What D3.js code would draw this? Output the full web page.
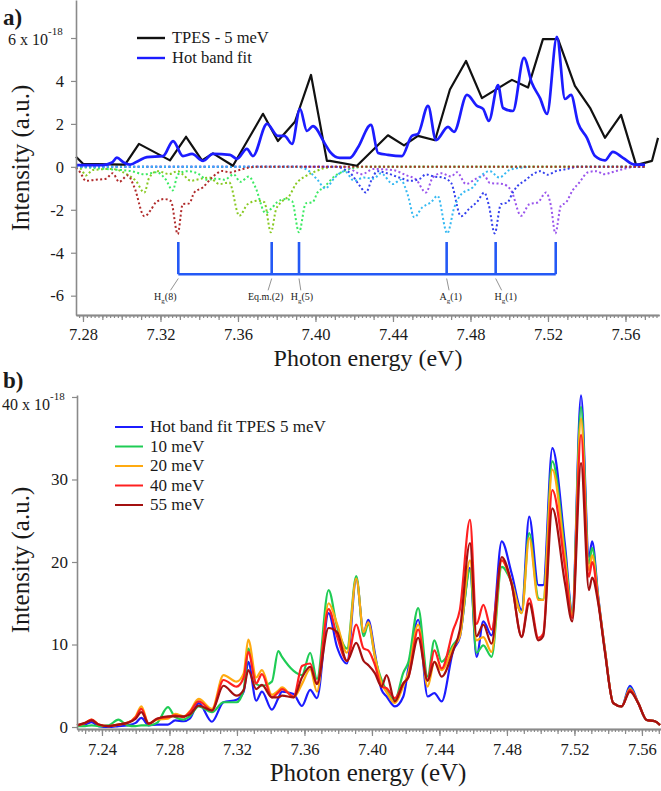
<!DOCTYPE html>
<html>
<head>
<meta charset="utf-8">
<script src="https://cdn.jsdelivr.net/npm/d3@7"></script>
<style>
  body { margin: 0; background: #fff; }
</style>
</head>
<body>
<div id="plot"></div>
<script>
// ---------- panel a data : [photon energy (eV), intensity (1e-18)] ----------
var tpes5 = [[7.2764,0.47],[7.2800,0.14],[7.3017,0.1],[7.3089,1.07],[7.3249,0.3],[7.3332,1.4],[7.3414,0.3],
  [7.3471,0.63],[7.3574,0.05],[7.3729,2.47],[7.3806,1.2],[7.3894,2.1],[7.3977,4.28],[7.4059,0.28],[7.4075,0.28],
  [7.4214,0.05],[7.4374,1.47],[7.4457,1.0],[7.4529,1.44],[7.4617,1.24],[7.4694,3.6],[7.4777,4.93],[7.4859,3.2],
  [7.5014,4.05],[7.5097,3.69],[7.5174,5.95],[7.5252,5.95],[7.5339,3.77],[7.5417,2.75],[7.5494,1.35],[7.5577,2.42],
  [7.5655,0.08],[7.5737,0.28],[7.5768,1.35]];

var hotFitA = [[7.2764,0.08],[7.2900,0.08],[7.2950,0.2],[7.2975,0.43],[7.3010,0.2],[7.3043,0.1],[7.3090,0.3],
  [7.3130,0.45],[7.3213,0.5],[7.3265,1.2],[7.3316,0.5],[7.3363,0.6],[7.3420,0.28],[7.3470,0.6],[7.3559,0.56],
  [7.3595,0.37],[7.3646,0.84],[7.3677,0.5],[7.3750,2.0],[7.3806,1.44],[7.3840,1.44],[7.3879,1.07],[7.3920,2.7],
  [7.3956,1.67],[7.3987,1.9],[7.4049,1.07],[7.4075,0.7],[7.4126,0.42],[7.4178,0.42],[7.4219,0.9],[7.4286,1.95],
  [7.4323,0.65],[7.4374,0.56],[7.4446,0.5],[7.4498,1.44],[7.4529,1.53],[7.4581,2.84],[7.4622,1.24],[7.4684,1.86],
  [7.4715,1.63],[7.4782,3.35],[7.4834,2.84],[7.4865,2.7],[7.4895,2.14],[7.4942,3.81],[7.4968,2.74],[7.5019,2.6],
  [7.5076,5.07],[7.5117,3.9],[7.5159,3.2],[7.5195,2.46],[7.5246,6.05],[7.5288,3.16],[7.5319,3.35],[7.5355,2.05],
  [7.5401,1.35],[7.5443,0.5],[7.5494,0.3],[7.5535,0.7],[7.5587,0.42],[7.5649,0.1],[7.5701,0.1]];

// hot band components (drawn negative, dotted)
var compYellowGreen = [[7.2764,0],[7.2790,-0.1],[7.2815,-0.4],[7.2850,-0.15],[7.2950,-0.1],[7.3031,-0.37],[7.3073,-0.65],
  [7.3117,-1.2],[7.3142,-0.5],[7.3186,-0.2],[7.3245,-0.34],[7.3289,-0.2],[7.3315,-0.35],[7.3357,-0.65],[7.3400,-0.57],
  [7.3452,-0.5],[7.3504,-0.8],[7.3555,-0.73],[7.3607,-2.28],[7.3650,-1.74],[7.3702,-1.58],[7.3736,-1.65],[7.3770,-3.05],
  [7.3796,-2.0],[7.3831,-1.58],[7.3865,-1.35],[7.3899,-0.8],[7.3951,-0.42],[7.4003,-0.2],[7.4050,-0.05],[7.4100,0],[7.5700,0]];
var compLime = [[7.2764,0],[7.2950,-0.12],[7.3050,-0.2],[7.3117,-0.35],[7.3180,-0.25],[7.3228,-0.6],[7.3263,-1.1],
  [7.3290,-0.35],[7.3340,-0.2],[7.3400,-0.35],[7.3440,-0.6],[7.3490,-0.55],[7.3530,-0.6],[7.3578,-0.35],[7.3612,-0.7],
  [7.3656,-0.45],[7.3690,-0.95],[7.3742,-2.15],[7.3776,-1.9],[7.3802,-1.65],[7.3845,-1.5],[7.3879,-1.6],[7.3915,-3.05],
  [7.3950,-1.7],[7.3985,-1.65],[7.4010,-1.2],[7.4043,-0.96],[7.4094,-0.47],[7.4146,-0.2],[7.4200,-0.05],[7.4250,0],[7.5700,0]];
var compPurple = [[7.2764,0],[7.4150,0],[7.4240,-0.34],[7.4300,-0.1],[7.4400,-0.15],[7.4470,-0.4],[7.4520,-0.6],
  [7.4570,-1.2],[7.4605,-0.5],[7.4650,-0.3],[7.4700,-0.45],[7.4730,-0.25],[7.4777,-0.8],[7.4820,-0.6],[7.4870,-0.4],
  [7.4900,-0.75],[7.4966,-0.8],[7.5010,-1.1],[7.5061,-2.28],[7.5104,-1.74],[7.5147,-1.66],[7.5190,-1.2],[7.5215,-1.8],
  [7.5238,-3.1],[7.5267,-1.8],[7.5293,-1.66],[7.5327,-1.1],[7.5362,-0.73],[7.5405,-0.26],[7.5448,-0.2],[7.5491,-0.34],
  [7.5530,-0.25],[7.5580,-0.12],[7.5650,0],[7.5700,0]];
var compBlue = [[7.2764,0],[7.4100,0],[7.4180,-0.3],[7.4230,-0.9],[7.4260,-1.2],[7.4290,-0.6],[7.4320,-0.2],
  [7.4370,-0.3],[7.4433,-0.5],[7.4490,-0.65],[7.4540,-0.55],[7.4570,-0.35],[7.4610,-0.45],[7.4657,-0.5],[7.4700,-0.75],
  [7.4751,-2.3],[7.4794,-1.95],[7.4837,-1.6],[7.4871,-1.2],[7.4895,-1.8],[7.4925,-3.1],[7.4957,-1.74],[7.4991,-1.66],
  [7.5018,-1.2],[7.5044,-0.88],[7.5080,-0.65],[7.5121,-0.35],[7.5160,-0.2],[7.5198,-0.37],[7.5240,-0.2],[7.5300,-0.1],
  [7.5350,0],[7.5700,0]];
var compLightBlue = [[7.2764,0],[7.3900,0],[7.3950,-0.1],[7.4010,-0.6],[7.4050,-1.0],[7.4100,-0.5],[7.4150,-0.2],
  [7.4200,-0.65],[7.4250,-0.5],[7.4300,-0.55],[7.4338,-0.3],[7.4400,-0.8],[7.4440,-0.6],[7.4476,-1.3],[7.4510,-2.35],
  [7.4550,-1.9],[7.4596,-1.65],[7.4630,-1.35],[7.4680,-3.1],[7.4716,-1.9],[7.4750,-1.3],[7.4811,-0.96],[7.4863,-0.35],
  [7.4900,-0.2],[7.4949,-0.5],[7.5000,-0.15],[7.5050,-0.05],[7.5100,0]];
var compDarkRed = [[7.2764,-0.05],[7.2785,-0.25],[7.2815,-0.65],[7.2867,-0.6],[7.2919,-0.55],[7.2953,-0.3],[7.2987,-0.7],
  [7.3031,-0.4],[7.3065,-0.95],[7.3117,-2.3],[7.3151,-2.0],[7.3177,-1.65],[7.3220,-1.5],[7.3254,-1.6],[7.3289,-3.13],
  [7.3315,-1.74],[7.3349,-1.7],[7.3374,-1.2],[7.3418,-0.96],[7.3469,-0.47],[7.3521,-0.19],[7.3555,-0.26],[7.3607,-0.15],
  [7.3658,-0.03],[7.3700,0],[7.5700,0]];

var stickEnergy = [7.3292, 7.3774, 7.3915, 7.4677, 7.4930, 7.5240];
var stickMain = ["H", "Eq.m.(2)", "H", "A", "H", ""];
var stickSub = ["g", "", "g", "g", "g", ""];
var stickTail = ["(8)", "", "(5)", "(1)", "(1)", ""];

// ---------- panel b data : common energy grid, one value list per resolution ----------
var energyB = [7.2252,7.2300,7.2339,7.2380,7.2440,7.2497,7.2550,7.2600,7.2633,7.2677,7.2726,7.2791,7.2834,7.2884,
  7.2920,7.2973,7.3052,7.3120,7.3198,7.3240,7.3267,7.3314,7.3348,7.3407,7.3445,7.3467,7.3536,7.3585,7.3634,7.3674,
  7.3743,7.3793,7.3852,7.3907,7.3951,7.3978,7.4018,7.4057,7.4087,7.4136,7.4186,7.4215,7.4274,7.4330,7.4370,7.4413,
  7.4482,7.4521,7.4581,7.4620,7.4660,7.4709,7.4769,7.4828,7.4887,7.4932,7.4986,7.5015,7.5069,7.5144,7.5187,7.5239,
  7.5286,7.5305,7.5341,7.5381,7.5430,7.5480,7.5529,7.5578,7.5628,7.5677,7.5707];
var fit5 =  [0.2,0.3,0.6,0.1,0.0,0.1,0.2,0.5,1.1,0.2,0.3,0.3,0.8,0.7,1.0,2.9,0.64,3.0,3.3,4.3,7.9,3.2,4.3,2.1,3.5,4.3,4.0,2.55,4.5,3.5,
  13.8,9.7,7.7,18.0,11.4,13.0,8.9,4.5,3.7,2.5,3.7,7.0,13.0,3.7,4.1,3.1,9.3,10.9,19.3,8.5,12.8,11.1,22.5,18.6,14.2,25.5,17.2,17.2,
  33.8,22.1,14.0,40.2,20.6,22.5,15.8,9.3,2.9,2.5,5.0,2.9,0.85,0.7,0.24];
var res10 = [0.1,0.1,0.2,0.1,0.2,0.9,0.2,0.1,0.2,0.2,0.5,2.4,1.2,0.9,1.3,2.5,1.8,3.0,3.0,4.5,9.5,5.2,5.0,5.5,9.2,8.5,6.8,6.3,9.0,5.8,
  16.6,12.2,9.5,18.3,11.0,12.5,8.5,5.7,4.4,3.3,6.6,7.8,14.4,6.1,10.5,7.9,10.0,11.2,19.0,9.0,9.9,8.5,19.4,17.5,13.8,23.5,15.6,15.4,
  32.2,21.1,13.8,38.8,19.8,21.7,15.6,9.3,2.9,2.5,4.7,2.9,0.85,0.7,0.24];
var res20 = [0.2,0.5,0.9,0.3,0.1,0.3,0.5,1.3,2.5,0.4,0.9,1.0,1.6,1.3,1.9,3.4,2.2,6.3,5.5,6.5,10.6,6.0,6.9,3.9,4.4,4.8,3.6,5.2,7.0,4.3,
  15.0,12.5,9.0,18.0,11.5,12.7,8.5,5.3,4.2,2.9,5.0,6.5,12.4,4.9,7.9,6.9,9.7,11.0,20.2,10.5,10.9,9.1,20.2,17.5,13.8,22.9,15.4,15.4,
  31.2,20.5,13.5,37.4,19.0,20.8,15.5,9.3,2.9,2.5,4.6,2.9,0.85,0.7,0.24];
var res40 = [0.2,0.5,0.9,0.3,0.1,0.3,0.5,1.2,2.2,0.4,1.0,1.2,1.4,1.2,1.8,3.1,2.0,5.7,4.9,6.0,9.1,5.3,6.4,3.6,4.2,4.6,3.7,7.4,7.7,5.3,
  14.3,11.0,8.0,12.4,9.5,9.3,7.5,4.9,4.7,3.5,5.3,6.0,11.8,5.7,9.3,7.1,11.8,14.2,25.1,12.5,14.8,11.8,20.2,17.3,11.0,15.6,10.8,11.3,
  28.7,19.4,13.2,35.4,18.2,20.0,15.3,9.2,2.9,2.5,4.5,2.9,0.85,0.7,0.24];
var res55 = [0.2,0.5,0.8,0.3,0.1,0.3,0.5,1.0,1.8,0.4,1.0,1.3,1.3,1.3,1.5,2.6,2.0,5.0,3.8,4.5,6.9,4.6,5.1,3.6,3.6,3.8,3.6,6.0,7.3,5.2,
  12.0,11.5,8.0,10.2,8.0,7.5,6.5,4.9,6.3,3.1,5.3,6.0,10.8,5.6,7.9,6.1,9.3,11.8,22.3,11.0,12.4,10.1,20.6,17.3,10.9,15.0,10.5,11.0,
  26.5,17.4,12.8,32.0,16.6,18.1,15.0,9.0,2.9,2.5,4.3,2.9,0.85,0.7,0.24];

var seriesB = [
  { name: "Hot band fit TPES 5 meV", values: fit5, color: "#1c1cff" },
  { name: "10 meV", values: res10, color: "#1fcc55" },
  { name: "20 meV", values: res20, color: "#ffaa10" },
  { name: "40 meV", values: res40, color: "#ff2020" },
  { name: "55 meV", values: res55, color: "#a31010" }
];

var FONT = "'Liberation Serif', Tinos, 'Times New Roman', 'DejaVu Serif', serif";
var W = 661, H = 791;
var svg = d3.select("#plot").append("svg").attr("width", W).attr("height", H);

var axisGrey = "#8a8a8a";

function styleAxis(g) {
  g.attr("font-family", null);
  g.select(".domain").attr("stroke", axisGrey).attr("stroke-width", 1.6);
  g.selectAll(".tick line").attr("stroke", axisGrey).attr("stroke-width", 1.2);
  g.selectAll(".tick text").attr("fill", "#1a1a1a").style("font-size", "16.5px");
}

function drawXAxis(g, x, y0, start, end, padding) {
  var majors = d3.range(0, 10).map(function (i) { return +(start + i * 0.04).toFixed(2); }).filter(function (v) { return v <= end + 1e-9; });
  var minors = d3.range(Math.ceil(x.domain()[0] / 0.002), Math.floor(x.domain()[1] / 0.002) + 1).map(function (k) { return k * 0.002; });
  var mids = minors.filter(function (v) { return Math.abs(Math.round(v * 100) - v * 100) < 1e-6; });
  g.append("g").attr("transform", "translate(0," + y0 + ")")
    .call(d3.axisBottom(x).tickValues(minors).tickSize(3).tickFormat("").tickSizeOuter(0)).call(styleAxis)
    .selectAll(".tick text").remove();
  g.append("g").attr("transform", "translate(0," + y0 + ")")
    .call(d3.axisBottom(x).tickValues(mids).tickSize(5).tickFormat("").tickSizeOuter(0)).call(styleAxis)
    .selectAll(".tick text").remove();
  g.append("g").attr("transform", "translate(0," + y0 + ")")
    .call(d3.axisBottom(x).tickValues(majors).tickSize(7).tickPadding(padding).tickFormat(d3.format(".2f")).tickSizeOuter(0))
    .call(styleAxis);
}

// ================= panel a =================
var xA = d3.scaleLinear().domain([7.2764, 7.5773]).range([76, 659]);
var yA = d3.scaleLinear().domain([-6.9, 7.77]).range([315, 0]);
var gA = svg.append("g");

var dotted = [
  { data: compYellowGreen, color: "#88c922" },
  { data: compLime, color: "#3bea62" },
  { data: compPurple, color: "#9a55ec" },
  { data: compBlue, color: "#3440ee" },
  { data: compLightBlue, color: "#36b9f2" },
  { data: compDarkRed, color: "#b02a2a" }
];
var lineA = d3.line().x(function (d) { return xA(d[0]); }).y(function (d) { return yA(d[1]); }).curve(d3.curveMonotoneX);
dotted.forEach(function (c) {
  gA.append("path").datum(c.data).attr("d", lineA).attr("fill", "none")
    .attr("stroke", c.color).attr("stroke-width", 2).attr("stroke-dasharray", "2,2.4");
});

gA.append("path").datum(tpes5)
  .attr("d", d3.line().x(function (d) { return xA(d[0]); }).y(function (d) { return yA(d[1]); }))
  .attr("fill", "none").attr("stroke", "#111").attr("stroke-width", 2.2).attr("stroke-linejoin", "round");
gA.append("path").datum(hotFitA).attr("d", lineA)
  .attr("fill", "none").attr("stroke", "#1c1cff").attr("stroke-width", 2.7);

// stick spectrum
var stickBlue = "#2459f5";
gA.append("line").attr("x1", xA(stickEnergy[0])).attr("x2", xA(stickEnergy[stickEnergy.length - 1]))
  .attr("y1", yA(-5)).attr("y2", yA(-5)).attr("stroke", stickBlue).attr("stroke-width", 2.4);
gA.selectAll(".stick").data(stickEnergy).join("line").attr("class", "stick")
  .attr("x1", function (d) { return xA(d); }).attr("x2", function (d) { return xA(d); })
  .attr("y1", yA(-5)).attr("y2", yA(-3.5)).attr("stroke", stickBlue).attr("stroke-width", 2.6);

// labels under the sticks
var labelShift = [-13, -6, 3, 4, 10, 0];
stickEnergy.forEach(function (e, i) {
  if (!stickMain[i]) return;
  var sx = xA(e), lx = sx + labelShift[i];
  gA.append("line").attr("x1", sx).attr("y1", yA(-5.2)).attr("x2", sx + labelShift[i] * 0.6).attr("y2", yA(-5.75))
    .attr("stroke", "#777").attr("stroke-width", 0.8);
  var t = gA.append("text").attr("x", lx).attr("y", 300).attr("text-anchor", "middle").style("font-size", "10px");
  t.append("tspan").text(stickMain[i]);
  if (stickSub[i]) t.append("tspan").attr("dy", 2.5).style("font-size", "7px").text(stickSub[i]);
  if (stickTail[i]) t.append("tspan").attr("dy", stickSub[i] ? -2.5 : 0).text(stickTail[i]);
});

// axes a
gA.append("g").attr("transform", "translate(76,0)")
  .call(d3.axisLeft(yA).tickValues([-6, -4, -2, 0, 2, 4, 6]).tickSize(5).tickPadding(7)
    .tickFormat(function (d) { return d === 6 ? "" : String(d); }).tickSizeOuter(0))
  .call(styleAxis);
var expA = gA.append("text").attr("x", 8).attr("y", 45).style("font-size", "16px");
expA.append("tspan").text("6 x 10");
expA.append("tspan").attr("dy", -10).style("font-size", "11px").text("-18");
drawXAxis(gA, xA, 315, 7.28, 7.57, 6);

gA.append("text").attr("x", 368).attr("y", 366).attr("text-anchor", "middle").style("font-size", "24px").text("Photon energy (eV)");
gA.append("text").attr("transform", "translate(29,158) rotate(-90)").attr("text-anchor", "middle")
  .style("font-size", "25px").text("Intensity (a.u.)");
gA.append("text").attr("x", 3).attr("y", 25).style("font-size", "23px").style("font-weight", "bold").text("a)");

// legend a
var legA = [{ name: "TPES - 5 meV", color: "#111" }, { name: "Hot band fit", color: "#1c1cff" }];
legA.forEach(function (d, i) {
  var yy = 38 + i * 20;
  gA.append("line").attr("x1", 137).attr("x2", 165).attr("y1", yy).attr("y2", yy).attr("stroke", d.color).attr("stroke-width", 2.4);
  gA.append("text").attr("x", 172).attr("y", yy + 5).style("font-size", "16.5px").text(d.name);
});

// ================= panel b =================
var xB = d3.scaleLinear().domain([7.2252, 7.5713]).range([77, 661]);
var yB = d3.scaleLinear().domain([-0.24, 40.24]).range([729, 395]);
var gB = svg.append("g");

seriesB.forEach(function (s) {
  var pts = energyB.map(function (e, i) { return [e, s.values[i]]; });
  gB.append("path").datum(pts)
    .attr("d", d3.line().x(function (d) { return xB(d[0]); }).y(function (d) { return yB(d[1]); }).curve(d3.curveMonotoneX))
    .attr("fill", "none").attr("stroke", s.color).attr("stroke-width", 2.2).attr("stroke-linejoin", "round");
});

gB.append("g").attr("transform", "translate(77,0)")
  .call(d3.axisLeft(yB).tickValues([0, 10, 20, 30, 40]).tickSize(5).tickPadding(4)
    .tickFormat(function (d) { return d === 40 ? "" : String(d); }).tickSizeOuter(0))
  .call(styleAxis);
gB.selectAll(".tick text").style("font-size", "17px");
var expB = gB.append("text").attr("x", 2).attr("y", 410).style("font-size", "16px");
expB.append("tspan").text("40 x 10");
expB.append("tspan").attr("dy", -10).style("font-size", "11px").text("-18");
drawXAxis(gB, xB, 729, 7.24, 7.56, 7);

gB.append("text").attr("x", 368).attr("y", 781).attr("text-anchor", "middle").style("font-size", "25px").text("Photon energy (eV)");
gB.append("text").attr("transform", "translate(29,560) rotate(-90)").attr("text-anchor", "middle")
  .style("font-size", "25px").text("Intensity (a.u.)");
gB.append("text").attr("x", 3).attr("y", 388).style("font-size", "23px").style("font-weight", "bold").text("b)");

seriesB.forEach(function (s, i) {
  var yy = 427 + i * 19.5;
  gB.append("line").attr("x1", 115).attr("x2", 143).attr("y1", yy).attr("y2", yy).attr("stroke", s.color).attr("stroke-width", 2);
  gB.append("text").attr("x", 150).attr("y", yy + 5).style("font-size", "17px").text(s.name);
});

svg.selectAll("text").style("font-family", FONT).attr("fill", "#1a1a1a");
</script>
</body>
</html>
